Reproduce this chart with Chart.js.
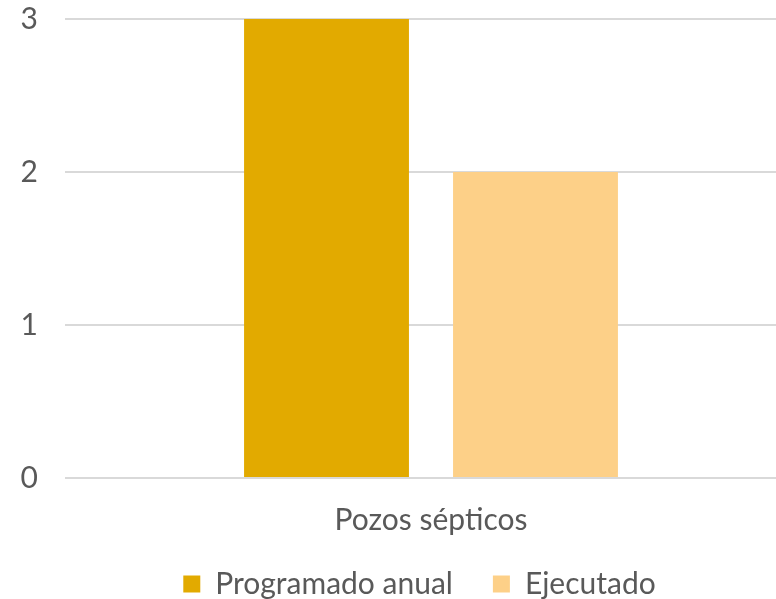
<!DOCTYPE html>
<html>
<head>
<meta charset="utf-8">
<script src="https://cdn.jsdelivr.net/npm/chart.js@4/dist/chart.umd.min.js"></script>
<style>
  html, body { margin: 0; padding: 0; background: #fff; overflow: hidden; }
  #wrap { width: 840px; height: 599px; }
</style>
</head>
<body>
<div id="wrap"><canvas id="barChart" width="840" height="599"></canvas></div>
<script>
var categories = ["Pozos sépticos"];
var programado = [3];
var ejecutado = [2];
var yTicks = [0, 1, 2, 3];

// nudge the legend after layout, keeps the wide item spacing
var legendShift = {
  id: 'legendShift',
  afterLayout: function(chart) {
    chart.legend.top -= 11;
    chart.legend.bottom -= 11;
    chart.legend.left += 21;
    chart.legend.right += 21;
  }
};

var ctx = document.getElementById("barChart").getContext('2d');
var barChart = new Chart(ctx, {
  type: 'bar',
  data: {
    labels: categories,
    datasets: [{
        label: "Programado anual",
        data: programado,
        backgroundColor: '#E2AA00',
        categoryPercentage: 0.571,
        barPercentage: 0.789
      },
      {
        label: "Ejecutado",
        data: ejecutado,
        backgroundColor: '#FDD088',
        categoryPercentage: 0.571,
        barPercentage: 0.789
      }
    ]
  },
  plugins: [legendShift],
  options: {
    responsive: false,
    animation: false,
    layout: { padding: { top: 19, right: 43, left: 0, bottom: -21 } },
    scales: {
      y: {
        min: 0,
        max: 3,
        afterBuildTicks: function(axis) {
          axis.ticks = yTicks.map(function(v) { return { value: v }; });
        },
        afterFit: function(axis) {
          axis.width = 65;
          axis.paddingTop = 0;
          axis.paddingBottom = 0;
        },
        grid: { color: '#d9d9d9', lineWidth: 2, drawTicks: false },
        border: { display: false },
        ticks: {
          color: '#595959',
          padding: 27,
          font: { family: 'Lato', size: 30 }
        }
      },
      x: {
        afterFit: function(axis) { axis.height = 62; },
        grid: { display: false },
        border: { display: false },
        ticks: {
          color: '#595959',
          padding: 16,
          font: { family: 'Lato', size: 30 }
        }
      }
    },
    plugins: {
      legend: {
        position: 'bottom',
        labels: {
          color: '#595959',
          boxWidth: 17,
          boxHeight: 17,
          padding: 40,
          font: { family: 'Lato', size: 30 }
        }
      },
      tooltip: { enabled: false }
    }
  }
});
</script>
</body>
</html>
